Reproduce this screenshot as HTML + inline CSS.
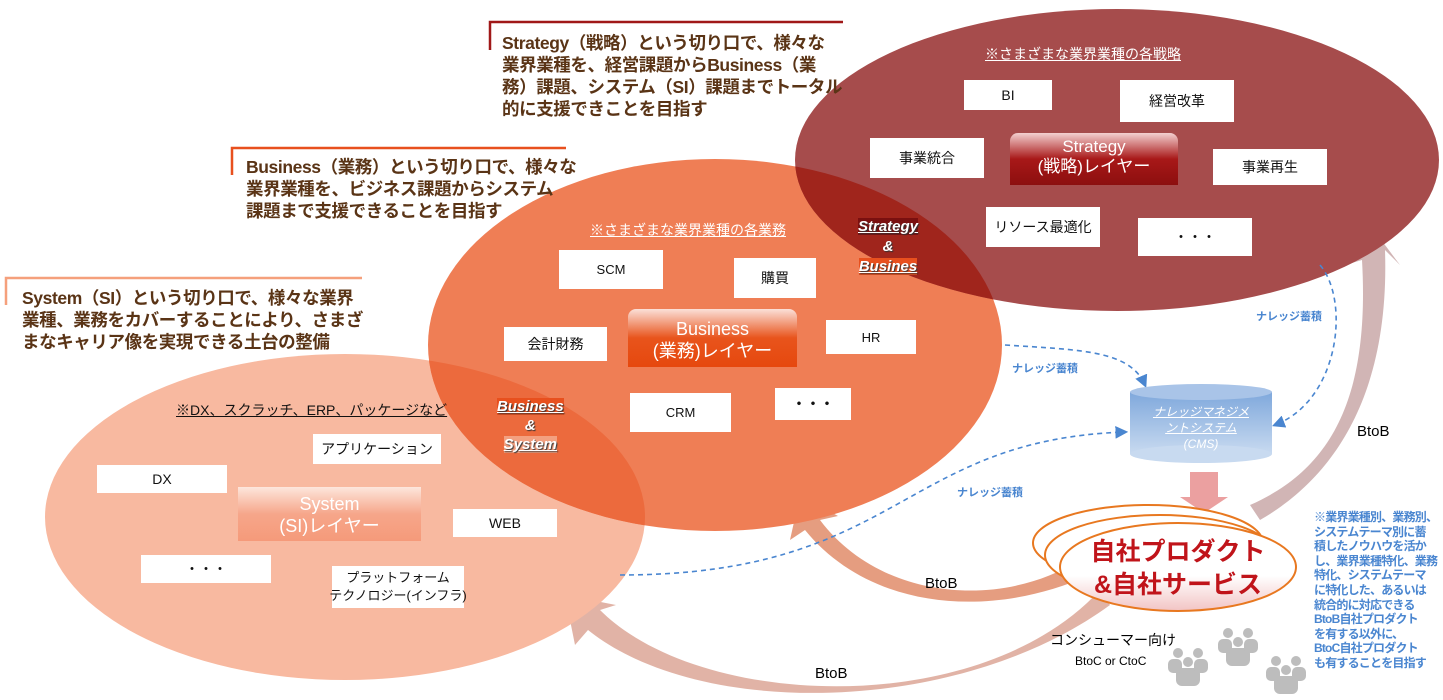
<!DOCTYPE html>
<html><head><meta charset="utf-8"><style>
body{margin:0;width:1443px;height:700px;background:#fff;position:relative;overflow:hidden;font-family:"Liberation Sans","Noto Sans CJK JP",sans-serif}
.t{position:absolute;font-weight:bold;color:#5a3416;font-size:17.5px;line-height:22px;white-space:nowrap;letter-spacing:-0.4px}
.b{position:absolute;background:#fff;font-size:14px;color:#111;display:flex;align-items:center;justify-content:center;white-space:nowrap}
.ab{position:absolute;white-space:nowrap}
</style></head><body>
<svg width="1443" height="700" style="position:absolute;left:0;top:0">
<defs>
<clipPath id="cB"><ellipse cx="715" cy="345" rx="287" ry="186"/></clipPath>
<linearGradient id="cyl" x1="0" y1="0" x2="0" y2="1"><stop offset="0" stop-color="#7fa8dc"/><stop offset="1" stop-color="#c8daf0"/></linearGradient>
<linearGradient id="pr" x1="0" y1="0" x2="0" y2="1"><stop offset="0" stop-color="#fff"/><stop offset=".6" stop-color="#fff"/><stop offset="1" stop-color="#f2c4c4"/></linearGradient>
<marker id="ah" markerWidth="8" markerHeight="8" refX="6" refY="4" orient="auto"><path d="M0,0 L8,4 L0,8z" fill="#4a86d0"/></marker>
</defs>
<path d="M1260,520 C1330,480 1390,400 1385,250 L1400,265 L1370,225 L1345,265 L1362,260 C1370,400 1330,470 1250,505z" fill="#c9a8a8" opacity=".85"/>
<path d="M1080,560 C1000,610 880,600 820,520 L838,516 L800,495 L790,540 L805,530 C870,610 990,620 1090,575z" fill="#e08c6a" opacity=".85"/>
<path d="M1100,590 C980,720 700,710 600,610 L616,605 L565,595 L575,645 L588,630 C700,720 960,715 1110,605z" fill="#d9a090" opacity=".8"/>
<ellipse cx="345" cy="517" rx="300" ry="163" fill="#f8b9a0"/>
<ellipse cx="715" cy="345" rx="287" ry="186" fill="#ef7e55"/>
<ellipse cx="345" cy="517" rx="300" ry="163" fill="#ec6a3d" clip-path="url(#cB)"/>
<ellipse cx="1117" cy="160" rx="322" ry="151" fill="#a64c4c"/>
<ellipse cx="1117" cy="160" rx="322" ry="151" fill="#a0251c" clip-path="url(#cB)"/>
<path d="M1005,345 C1080,350 1130,350 1145,385" fill="none" stroke="#4a86d0" stroke-width="1.6" stroke-dasharray="5,4" marker-end="url(#ah)"/>
<path d="M1320,265 C1350,300 1340,400 1275,425" fill="none" stroke="#4a86d0" stroke-width="1.6" stroke-dasharray="5,4" marker-end="url(#ah)"/>
<path d="M620,575 C900,575 900,440 1125,432" fill="none" stroke="#4a86d0" stroke-width="1.6" stroke-dasharray="5,4" marker-end="url(#ah)"/>
<rect x="1130" y="392" width="142" height="62" fill="url(#cyl)"/>
<ellipse cx="1201" cy="454" rx="71" ry="9" fill="#c8daf0"/>
<ellipse cx="1201" cy="392" rx="71" ry="8" fill="#a9c4e8"/>
<path d="M1190,472 L1218,472 L1218,497 L1228,497 L1204,513 L1180,497 L1190,497z" fill="#eba0a0"/>
<ellipse cx="1148" cy="543" rx="115" ry="38" fill="#fff" stroke="#e87820" stroke-width="2"/>
<ellipse cx="1160" cy="555" rx="115" ry="40" fill="#fff" stroke="#e87820" stroke-width="2"/>
<ellipse cx="1178" cy="567" rx="118" ry="44" fill="url(#pr)" stroke="#e87820" stroke-width="2"/>
<path d="M490,50 L490,22 L843,22" fill="none" stroke="#a01818" stroke-width="2.5"/>
<path d="M232,175 L232,148 L566,148" fill="none" stroke="#e8501e" stroke-width="2.5"/>
<path d="M6,305 L6,278 L362,278" fill="none" stroke="#f5a07c" stroke-width="2.5"/>
<g fill="#bdbdbd">
<g transform="translate(1168,648)"><circle cx="10" cy="5" r="5"/><circle cx="30" cy="5" r="5"/><circle cx="20" cy="14" r="5"/><rect x="8" y="20" width="24" height="18" rx="6"/><rect x="0" y="11" width="14" height="14" rx="5"/><rect x="26" y="11" width="14" height="14" rx="5"/></g>
<g transform="translate(1218,628)"><circle cx="10" cy="5" r="5"/><circle cx="30" cy="5" r="5"/><circle cx="20" cy="14" r="5"/><rect x="8" y="20" width="24" height="18" rx="6"/><rect x="0" y="11" width="14" height="14" rx="5"/><rect x="26" y="11" width="14" height="14" rx="5"/></g>
<g transform="translate(1266,656)"><circle cx="10" cy="5" r="5"/><circle cx="30" cy="5" r="5"/><circle cx="20" cy="14" r="5"/><rect x="8" y="20" width="24" height="18" rx="6"/><rect x="0" y="11" width="14" height="14" rx="5"/><rect x="26" y="11" width="14" height="14" rx="5"/></g>
</g>
</svg>

<div class="t" style="left:502px;top:32px">Strategy（戦略）という切り口で、様々な<br>業界業種を、経営課題からBusiness（業<br>務）課題、システム（SI）課題までトータル<br>的に支援できことを目指す</div>
<div class="t" style="left:246px;top:156px">Business（業務）という切り口で、様々な<br>業界業種を、ビジネス課題からシステム<br>課題まで支援できることを目指す</div>
<div class="t" style="left:22px;top:287px">System（SI）という切り口で、様々な業界<br>業種、業務をカバーすることにより、さまざ<br>まなキャリア像を実現できる土台の整備</div>

<div class="ab" style="left:985px;top:44px;color:#fff;font-size:14px;text-decoration:underline">※さまざまな業界業種の各戦略</div>
<div class="b" style="left:964px;top:80px;width:88px;height:30px">BI</div>
<div class="b" style="left:1120px;top:80px;width:114px;height:42px">経営改革</div>
<div class="b" style="left:870px;top:138px;width:114px;height:40px">事業統合</div>
<div class="b" style="left:1213px;top:149px;width:114px;height:36px">事業再生</div>
<div class="b" style="left:986px;top:207px;width:114px;height:40px">リソース最適化</div>
<div class="b" style="left:1138px;top:218px;width:114px;height:38px">・・・</div>
<div class="ab" style="left:1010px;top:133px;width:168px;height:52px;background:linear-gradient(#f3d0d0,#a81818 50%,#8c0f0f);border-radius:8px 8px 0 0;color:#fff;text-align:center;font-size:17px;line-height:20px;padding-top:4px;box-sizing:border-box">Strategy<br>(戦略)レイヤー</div>

<div class="ab" style="left:590px;top:220px;color:#fff;font-size:14px;text-decoration:underline">※さまざまな業界業種の各業務</div>
<div class="b" style="left:559px;top:250px;width:104px;height:39px;font-size:13px">SCM</div>
<div class="b" style="left:734px;top:258px;width:82px;height:40px">購買</div>
<div class="b" style="left:504px;top:327px;width:103px;height:34px">会計財務</div>
<div class="b" style="left:826px;top:320px;width:90px;height:34px;font-size:13px">HR</div>
<div class="b" style="left:630px;top:393px;width:101px;height:39px;font-size:13px">CRM</div>
<div class="b" style="left:775px;top:388px;width:76px;height:32px;font-weight:bold">・・・</div>
<div class="ab" style="left:628px;top:309px;width:169px;height:58px;background:linear-gradient(#fbe0d8,#e8541c 50%,#e6480e);border-radius:8px 8px 0 0;color:#fff;text-align:center;font-size:18px;line-height:22px;padding-top:9px;box-sizing:border-box">Business<br>(業務)レイヤー</div>

<div class="ab" style="left:176px;top:400px;color:#111;font-size:14px;text-decoration:underline">※DX、スクラッチ、ERP、パッケージなど</div>
<div class="b" style="left:313px;top:434px;width:128px;height:30px">アプリケーション</div>
<div class="b" style="left:97px;top:465px;width:130px;height:28px">DX</div>
<div class="b" style="left:453px;top:509px;width:104px;height:28px">WEB</div>
<div class="b" style="left:141px;top:555px;width:130px;height:28px">・・・</div>
<div class="b" style="left:332px;top:566px;width:132px;height:42px;font-size:13px;line-height:18px;text-align:center">プラットフォーム<br>テクノロジー(インフラ)</div>
<div class="ab" style="left:238px;top:487px;width:183px;height:54px;background:linear-gradient(#fde6dc,#f6a68a 50%,#f59a7a);color:#fff;text-align:center;font-size:18px;line-height:22px;padding-top:6px;box-sizing:border-box">System<br>(SI)レイヤー</div>

<div class="ab" style="left:858px;top:217px;color:#fff;font-size:15px;font-weight:bold;font-style:italic;line-height:20px;text-align:center;text-shadow:1px 1px 1px #333"><u style="background:#7a1010">Strategy</u><br>&amp;<br><u style="background:#e8501e">Busines</u></div>
<div class="ab" style="left:497px;top:397px;color:#fff;font-size:15px;font-weight:bold;font-style:italic;line-height:19px;text-align:center;text-shadow:1px 1px 1px #333"><u style="background:#e8501e">Business</u><br>&amp;<br><u style="background:#f3a080">System</u></div>

<div class="ab" style="left:1130px;top:404px;width:142px;text-align:center;color:#fff;font-size:12px;line-height:16px;font-style:italic"><u>ナレッジマネジメ<br>ントシステム</u><br>(CMS)</div>
<div class="ab" style="left:1012px;top:360px;color:#4a86d0;font-size:11px;font-weight:bold">ナレッジ蓄積</div>
<div class="ab" style="left:1256px;top:308px;color:#4a86d0;font-size:11px;font-weight:bold">ナレッジ蓄積</div>
<div class="ab" style="left:957px;top:484px;color:#4a86d0;font-size:11px;font-weight:bold">ナレッジ蓄積</div>

<div class="ab" style="left:1058px;top:536px;width:240px;text-align:center;color:#c0141a;font-size:25px;font-weight:bold;line-height:33px">自社プロダクト<br>&amp;自社サービス</div>
<div class="ab" style="left:1314px;top:510px;color:#4a86d0;font-size:12px;font-weight:bold;line-height:14.6px;letter-spacing:-0.8px">※業界業種別、業務別、<br>システムテーマ別に蓄<br>積したノウハウを活か<br>し、業界業種特化、業務<br>特化、システムテーマ<br>に特化した、あるいは<br>統合的に対応できる<br>BtoB自社プロダクト<br>を有する以外に、<br>BtoC自社プロダクト<br>も有することを目指す</div>
<div class="ab" style="left:1050px;top:630px;font-size:14px">コンシューマー向け</div>
<div class="ab" style="left:1075px;top:654px;font-size:12px">BtoC or CtoC</div>
<div class="ab" style="left:1357px;top:423px;font-size:15px">BtoB</div>
<div class="ab" style="left:925px;top:575px;font-size:15px">BtoB</div>
<div class="ab" style="left:815px;top:665px;font-size:15px">BtoB</div>
</body></html>
